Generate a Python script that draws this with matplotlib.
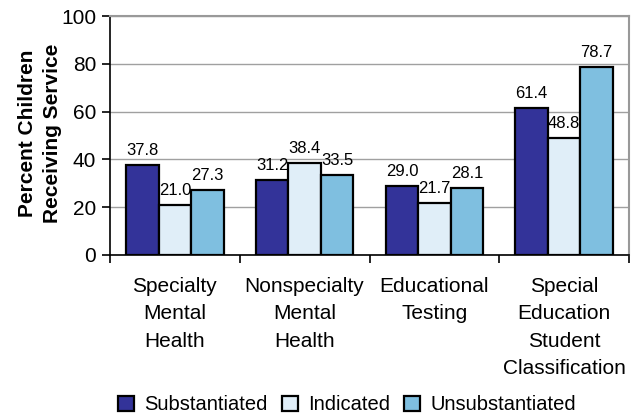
import numpy as np
import matplotlib
matplotlib.use("Agg")
import matplotlib.pyplot as plt
from matplotlib.patches import Patch

plt.rcParams['font.family'] = ['Liberation Sans', 'DejaVu Sans']

categories = ["Specialty\nMental\nHealth", "Nonspecialty\nMental\nHealth",
              "Educational\nTesting", "Special\nEducation\nStudent\nClassification"]
series_names = ["Substantiated", "Indicated", "Unsubstantiated"]
substantiated = [37.8, 31.2, 29.0, 61.4]
indicated = [21.0, 38.4, 21.7, 48.8]
unsubstantiated = [27.3, 33.5, 28.1, 78.7]
colors = ["#333399", "#E0EEF8", "#7FBFE0"]

fig = plt.figure(figsize=(6.42, 4.16), dpi=100)
ax = fig.add_axes([110/642, 161/416, 519/642, 239/416])

x = np.arange(len(categories))
w = 0.25
for i, (vals, name) in enumerate(zip([substantiated, indicated, unsubstantiated], series_names)):
    bars = ax.bar(x + (i - 1) * w, vals, w, color=colors[i], edgecolor="black",
                  linewidth=1.6, label=name, zorder=3)
    for b, v in zip(bars, vals):
        ax.annotate(f"{v:.1f}", (b.get_x() + b.get_width() / 2, v),
                    xytext=(0, 5), textcoords="offset points",
                    ha="center", va="bottom", fontsize=12, zorder=4)

ax.set_xlim(-0.5, 3.5)
ax.set_ylim(0, 100)
ax.set_yticks(range(0, 101, 20))
ax.yaxis.grid(True, color="#A0A0A0", linewidth=1.0, zorder=0)
ax.tick_params(axis="y", labelsize=15, length=6, width=1.2, direction="out", pad=4)

ax.set_xticks(np.arange(-0.5, 3.6, 1.0))
ax.set_xticklabels([])
ax.set_xticks(x, minor=True)
ax.set_xticklabels(categories, minor=True, fontsize=15, linespacing=1.55)
ax.tick_params(axis="x", which="major", length=6, width=1.2, direction="out")
ax.tick_params(axis="x", which="minor", length=0, pad=16)

for s in ["top", "right"]:
    ax.spines[s].set_color("#999999")
    ax.spines[s].set_linewidth(1.5)
for s in ["left", "bottom"]:
    ax.spines[s].set_color("black")
    ax.spines[s].set_linewidth(1.2)

fig.text(40/642, 1 - 133/416, "Percent Children\nReceiving Service", fontsize=15,
         fontweight="bold", rotation=90, ha="center", va="center",
         multialignment="center", linespacing=1.45)

handles = [Patch(facecolor=c, edgecolor="black", linewidth=1.6) for c in colors]
fig.legend(handles, series_names, loc="center", bbox_to_anchor=(347/642, 1 - 405/416),
           ncol=3, frameon=False, fontsize=14.5, handlelength=0.8, handleheight=0.8,
           handletextpad=0.5, columnspacing=0.7, borderpad=0)

fig.savefig("out.png", dpi=100)
